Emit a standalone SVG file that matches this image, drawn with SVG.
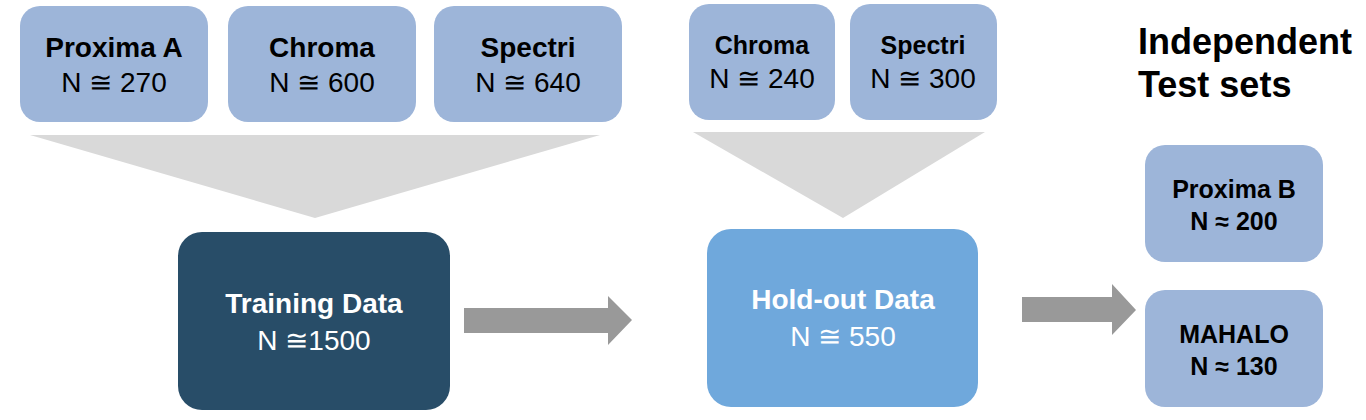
<svg xmlns="http://www.w3.org/2000/svg" width="1366" height="420" viewBox="0 0 1366 420">
<style>
.lb{fill:#9DB5D9}
.t{font-family:"Liberation Sans",Arial,sans-serif;text-anchor:middle;fill:#000}
.s{text-anchor:start}
.b{font-weight:bold}
.w{fill:#fff}
.funnel{fill:#D9D9D9}
.arr{fill:#999999}
</style>
<rect width="1366" height="420" fill="#fff"/>
<g id="connectors">
<polygon class="funnel" points="30,135 600,135 315,218"/>
<polygon class="funnel" points="693,132 985,132 843,218"/>
<polygon class="arr" points="464,308 608,308 608,296 632,320 608,345 608,333 464,333"/>
<polygon class="arr" points="1022,297 1112,297 1112,284 1136,310 1112,335 1112,322 1022,322"/>
</g>
<g id="proxima-a"><rect class="lb" x="20" y="6" width="188" height="116" rx="20"/>
<text class="t b" x="114" y="57" font-size="28">Proxima A</text>
<text class="t" x="114" y="92" font-size="28">N ≅ 270</text></g>
<g id="chroma-train"><rect class="lb" x="228" y="6" width="188" height="116" rx="20"/>
<text class="t b" x="322" y="57" font-size="28">Chroma</text>
<text class="t" x="322" y="92" font-size="28">N ≅ 600</text></g>
<g id="spectri-train"><rect class="lb" x="434" y="6" width="188" height="116" rx="20"/>
<text class="t b" x="528" y="57" font-size="28">Spectri</text>
<text class="t" x="528" y="92" font-size="28">N ≅ 640</text></g>
<g id="training"><rect x="178" y="232" width="272" height="178" rx="24" fill="#284D68"/>
<text class="t b w" x="314" y="313" font-size="28">Training Data</text>
<text class="t w" x="314" y="350" font-size="28">N ≅1500</text></g>
<g id="chroma-hold"><rect class="lb" x="689" y="4" width="146" height="116" rx="20"/>
<text class="t b" x="762" y="54" font-size="25">Chroma</text>
<text class="t" x="762" y="88" font-size="28">N ≅ 240</text></g>
<g id="spectri-hold"><rect class="lb" x="850" y="4" width="147" height="116" rx="20"/>
<text class="t b" x="923" y="54" font-size="25">Spectri</text>
<text class="t" x="923" y="88" font-size="28">N ≅ 300</text></g>
<g id="holdout"><rect x="707" y="229" width="271" height="178" rx="24" fill="#6FA8DC"/>
<text class="t b w" x="843" y="309" font-size="28">Hold-out Data</text>
<text class="t w" x="843" y="346" font-size="28">N ≅ 550</text></g>
<g id="title"><text class="t b s" x="1138" y="54" font-size="36">Independent</text>
<text class="t b s" x="1138" y="97" font-size="36">Test sets</text></g>
<g id="proxima-b"><rect class="lb" x="1145" y="145" width="178" height="117" rx="20"/>
<text class="t b" x="1234" y="198" font-size="25">Proxima B</text>
<text class="t b" x="1234" y="230" font-size="25">N ≈ 200</text></g>
<g id="mahalo"><rect class="lb" x="1145" y="290" width="178" height="117" rx="20"/>
<text class="t b" x="1234" y="343" font-size="25">MAHALO</text>
<text class="t b" x="1234" y="375" font-size="25">N ≈ 130</text></g>
</svg>
